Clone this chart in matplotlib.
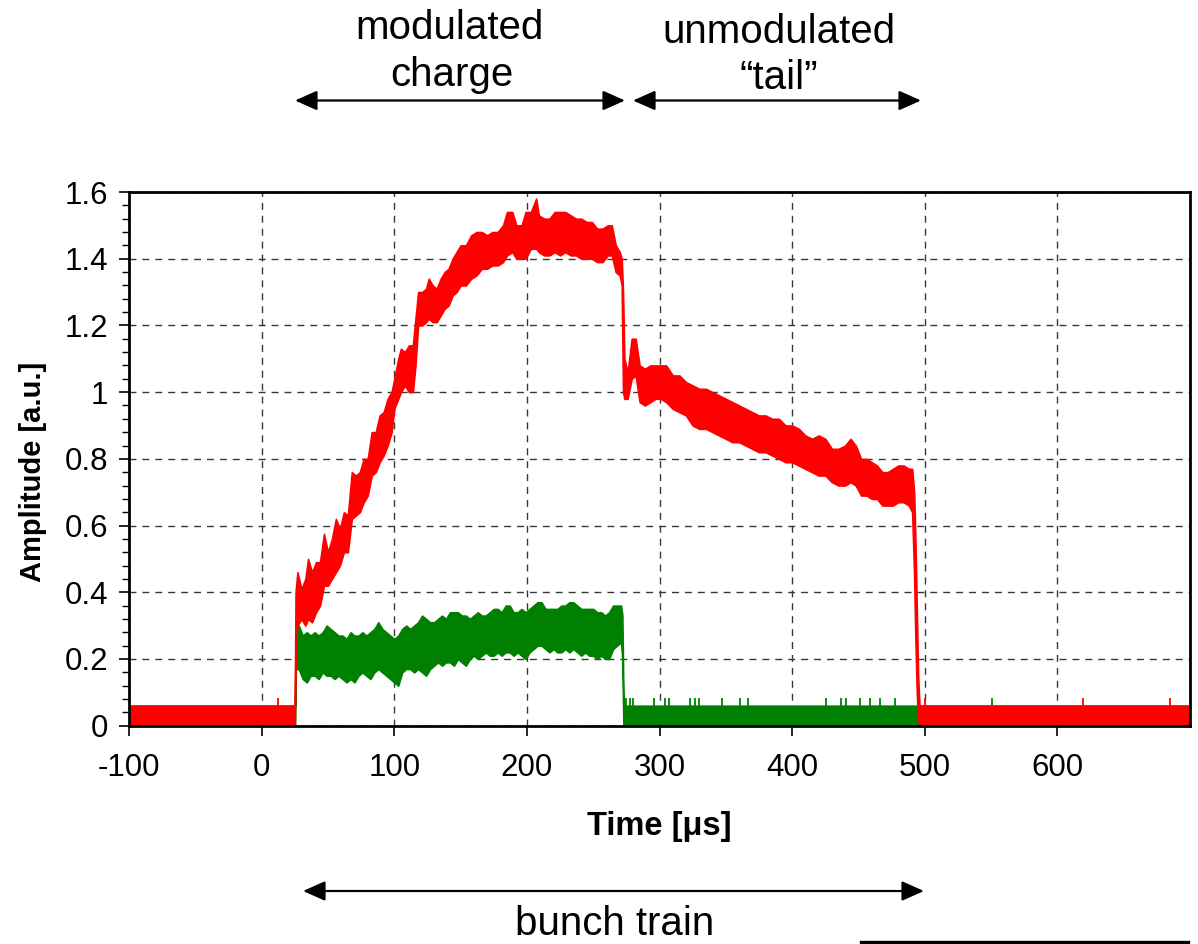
import numpy as np
import matplotlib
matplotlib.use('Agg')
import matplotlib.pyplot as plt
from matplotlib.patches import FancyArrowPatch
from matplotlib.lines import Line2D
from matplotlib.ticker import MultipleLocator

plt.rcParams['font.family'] = ['Liberation Sans', 'DejaVu Sans']

"""
data (envelopes of the noisy traces, read off the picture)
"""
red_t = [-100, 25.0, 25.6, 27, 30, 33, 35, 38, 41, 44, 47, 50, 53, 56, 59, 62, 65, 68, 71, 74,
         77, 80, 83, 86, 89, 92, 95, 98, 100, 103, 105, 108, 111, 114, 116, 118, 121, 124, 126,
         129, 132, 135, 138, 141, 144, 147, 150, 154, 158, 162, 166, 170, 174, 178, 182, 185,
         189, 192, 196, 199, 203, 207, 209, 213, 217, 221, 225, 229, 233, 237, 241, 245, 249,
         253, 257, 261, 264, 267, 270, 271.5, 272.5, 273.5, 276, 279, 282, 285, 289, 293, 297,
         301, 305, 310, 315, 320, 325, 330, 335, 340, 345, 350, 355, 360, 365, 370, 375, 380,
         385, 390, 395, 400, 405, 410, 415, 420, 425, 430, 435, 440, 444, 448, 452, 456, 460,
         464, 468, 472, 476, 480, 484, 488, 490.5, 492, 493, 494, 495, 496, 700]
red_lo = [0, 0, 0.28, 0.30, 0.32, 0.30, 0.32, 0.31, 0.34, 0.36, 0.42, 0.42, 0.44, 0.46, 0.48,
          0.52, 0.52, 0.62, 0.63, 0.64, 0.67, 0.69, 0.75, 0.76, 0.79, 0.81, 0.84, 0.88, 0.95,
          0.98, 1.00, 1.02, 1.00, 1.00, 1.08, 1.20, 1.20, 1.21, 1.22, 1.21, 1.21, 1.23, 1.25,
          1.26, 1.29, 1.30, 1.32, 1.32, 1.34, 1.35, 1.37, 1.37, 1.38, 1.38, 1.39, 1.41, 1.42,
          1.40, 1.40, 1.40, 1.43, 1.43, 1.42, 1.41, 1.41, 1.42, 1.41, 1.42, 1.41, 1.41, 1.40,
          1.40, 1.40, 1.39, 1.39, 1.41, 1.41, 1.36, 1.35, 1.32, 1.00, 0.98, 0.98, 1.04, 1.05,
          0.97, 0.96, 0.97, 0.98, 0.98, 0.97, 0.95, 0.94, 0.93, 0.90, 0.89, 0.89, 0.88, 0.87,
          0.86, 0.85, 0.85, 0.84, 0.83, 0.82, 0.82, 0.81, 0.80, 0.79, 0.79, 0.78, 0.77, 0.76,
          0.75, 0.75, 0.73, 0.72, 0.72, 0.73, 0.72, 0.69, 0.69, 0.68, 0.68, 0.66, 0.66, 0.66,
          0.67, 0.67, 0.66, 0.64, 0.45, 0.25, 0.10, 0.02, 0.0, 0.0]
red_hi = [0.06, 0.06, 0.40, 0.46, 0.41, 0.44, 0.50, 0.46, 0.49, 0.49, 0.575, 0.52, 0.56, 0.62,
          0.59, 0.64, 0.63, 0.76, 0.75, 0.76, 0.80, 0.80, 0.88, 0.88, 0.93, 0.94, 0.98, 1.00,
          1.04, 1.10, 1.13, 1.12, 1.14, 1.14, 1.22, 1.30, 1.30, 1.31, 1.34, 1.32, 1.31, 1.34,
          1.36, 1.37, 1.40, 1.42, 1.44, 1.44, 1.47, 1.48, 1.48, 1.47, 1.48, 1.48, 1.50, 1.54,
          1.54, 1.50, 1.50, 1.54, 1.54, 1.58, 1.53, 1.52, 1.52, 1.54, 1.54, 1.54, 1.53, 1.52,
          1.52, 1.51, 1.51, 1.49, 1.49, 1.50, 1.50, 1.44, 1.42, 1.40, 1.30, 1.10, 1.06, 1.16,
          1.16, 1.08, 1.07, 1.08, 1.08, 1.08, 1.08, 1.05, 1.05, 1.03, 1.02, 1.01, 1.01, 1.00,
          0.99, 0.98, 0.97, 0.96, 0.95, 0.94, 0.93, 0.93, 0.92, 0.92, 0.90, 0.90, 0.89, 0.87,
          0.86, 0.87, 0.86, 0.83, 0.83, 0.84, 0.86, 0.84, 0.80, 0.80, 0.79, 0.78, 0.76, 0.76,
          0.77, 0.78, 0.78, 0.77, 0.77, 0.70, 0.55, 0.35, 0.15, 0.06, 0.06]

green_t = [-100, 25.2, 25.8, 28, 31, 34, 37, 40, 43, 46, 49, 52, 55, 58, 61, 64, 67, 70, 73, 76,
           79, 82, 85, 88, 91, 94, 97, 100, 103, 106, 109, 112, 115, 118, 121, 124, 127, 130,
           133, 136, 139, 142, 145, 148, 151, 154, 157, 160, 163, 166, 169, 172, 175, 178, 181,
           184, 187, 190, 193, 196, 199, 202, 205, 208, 211, 214, 217, 220, 223, 226, 229, 232,
           235, 238, 241, 244, 247, 250, 253, 256, 259, 262, 265, 268, 271, 272, 272.8, 273.5, 700]
green_lo = [0, 0, 0.17, 0.17, 0.14, 0.13, 0.15, 0.15, 0.14, 0.16, 0.15, 0.15, 0.14, 0.15, 0.14,
            0.13, 0.14, 0.13, 0.15, 0.16, 0.15, 0.14, 0.16, 0.17, 0.16, 0.15, 0.14, 0.13, 0.12,
            0.16, 0.17, 0.17, 0.16, 0.17, 0.16, 0.15, 0.17, 0.18, 0.19, 0.18, 0.19, 0.19, 0.18,
            0.20, 0.19, 0.18, 0.20, 0.21, 0.20, 0.21, 0.22, 0.21, 0.21, 0.22, 0.21, 0.22, 0.22,
            0.21, 0.22, 0.21, 0.20, 0.22, 0.23, 0.24, 0.24, 0.23, 0.22, 0.23, 0.22, 0.22, 0.23,
            0.22, 0.23, 0.22, 0.21, 0.22, 0.21, 0.21, 0.20, 0.21, 0.20, 0.20, 0.23, 0.24, 0.25,
            0.20, 0.0, 0.0, 0.0]
green_hi = [0.06, 0.06, 0.29, 0.30, 0.27, 0.28, 0.27, 0.28, 0.27, 0.28, 0.30, 0.29, 0.28, 0.27,
            0.27, 0.26, 0.28, 0.27, 0.27, 0.28, 0.27, 0.28, 0.29, 0.31, 0.29, 0.28, 0.27, 0.26,
            0.27, 0.29, 0.30, 0.29, 0.30, 0.31, 0.33, 0.32, 0.31, 0.31, 0.32, 0.33, 0.32, 0.34,
            0.34, 0.34, 0.33, 0.33, 0.32, 0.33, 0.34, 0.33, 0.33, 0.34, 0.35, 0.35, 0.34, 0.36,
            0.36, 0.34, 0.34, 0.35, 0.34, 0.35, 0.36, 0.37, 0.37, 0.35, 0.35, 0.35, 0.35, 0.36,
            0.36, 0.37, 0.37, 0.36, 0.35, 0.35, 0.35, 0.35, 0.34, 0.34, 0.33, 0.34, 0.36, 0.36,
            0.36, 0.33, 0.08, 0.06, 0.06]

# isolated noise spikes above the baseline band
green_spikes = [275, 277.5, 280, 296, 304, 307, 323, 327, 330, 347, 361, 367, 425.5, 437,
                440.5, 451.5, 458.4, 465.9, 477.2, 551]
red_spikes = [12.6, 500.3, 619, 684.6]
spike_top = 0.083

xticks = [-100, 0, 100, 200, 300, 400, 500, 600]
yticks = [0, 0.2, 0.4, 0.6, 0.8, 1.0, 1.2, 1.4, 1.6]
ylabels = ['0', '0.2', '0.4', '0.6', '0.8', '1', '1.2', '1.4', '1.6']

"""
plot
"""
W, H = 1198, 944
fig = plt.figure(figsize=(W / 100, H / 100), dpi=100)
ax = fig.add_axes([129 / W, 1 - 725.7 / H, (1190 - 129) / W, (725.7 - 192) / H])

red = '#ff0000'
green = '#008000'

ax.fill_between(green_t, green_lo, green_hi, color=green, lw=1.2, zorder=2)
ax.vlines(green_spikes, 0.05, spike_top, color=green, lw=1.3, zorder=2)
ax.fill_between(red_t, red_lo, red_hi, color=red, lw=1.2, zorder=3)
ax.vlines(red_spikes, 0.05, spike_top, color=red, lw=1.3, zorder=3)

ax.set_xlim(-100, 700)
ax.set_ylim(0, 1.6)
ax.set_xticks(xticks)
ax.set_xticklabels([str(v) for v in xticks])
ax.set_yticks(yticks)
ax.set_yticklabels(ylabels)
ax.yaxis.set_minor_locator(MultipleLocator(0.04))

ax.grid(True, which='major', color='#383838', lw=1.0, ls=(0, (5, 4.3)), zorder=1)
ax.set_axisbelow(True)
for s in ax.spines.values():
    s.set_linewidth(2.0)
    s.set_zorder(5)

ax.tick_params(axis='both', which='major', direction='out', length=7, width=1.2,
               labelsize=22.5)
ax.tick_params(axis='y', which='minor', direction='out', length=5, width=1.0)
ax.tick_params(axis='x', pad=13)
ax.tick_params(axis='y', pad=8)

ax.set_xlabel('Time [\u03bcs]', fontsize=23.5, fontweight='bold')
ax.xaxis.label.set_va('center')
ax.xaxis.set_label_coords((659 - 129) / (1190 - 129), -(826 - 725.7) / (725.7 - 192))
ax.set_ylabel('Amplitude [a.u.]', fontsize=21, fontweight='bold')
ax.yaxis.label.set_va('center')
ax.yaxis.set_label_coords((33 - 129) / (1190 - 129), (725.7 - 472) / (725.7 - 192))


def px(x, y):
    return (x / W, 1 - y / H)


fig.text(*px(450, 28), 'modulated', fontsize=29, ha='center', va='center')
fig.text(*px(452, 75), 'charge', fontsize=29, ha='center', va='center')
fig.text(*px(779, 32), 'unmodulated', fontsize=29, ha='center', va='center')
fig.text(*px(779, 78), '\u201ctail\u201d', fontsize=29, ha='center', va='center')
fig.text(*px(615, 924), 'bunch train', fontsize=29, ha='center', va='center')

for (x1, x2, y) in [(295, 625, 100.5), (633, 921, 100.5), (303, 924, 891)]:
    arr = FancyArrowPatch(px(x1, y), px(x2, y), transform=fig.transFigure,
                          arrowstyle='<|-|>,head_length=1.35,head_width=0.6',
                          mutation_scale=10, lw=1.6, color='black',
                          shrinkA=0, shrinkB=0)
    fig.add_artist(arr)

fig.add_artist(Line2D([861 / W, 1188 / W], [1 - 941.5 / H] * 2, transform=fig.transFigure,
                      color='black', lw=2.4))

plt.savefig('out.png', dpi=100)
